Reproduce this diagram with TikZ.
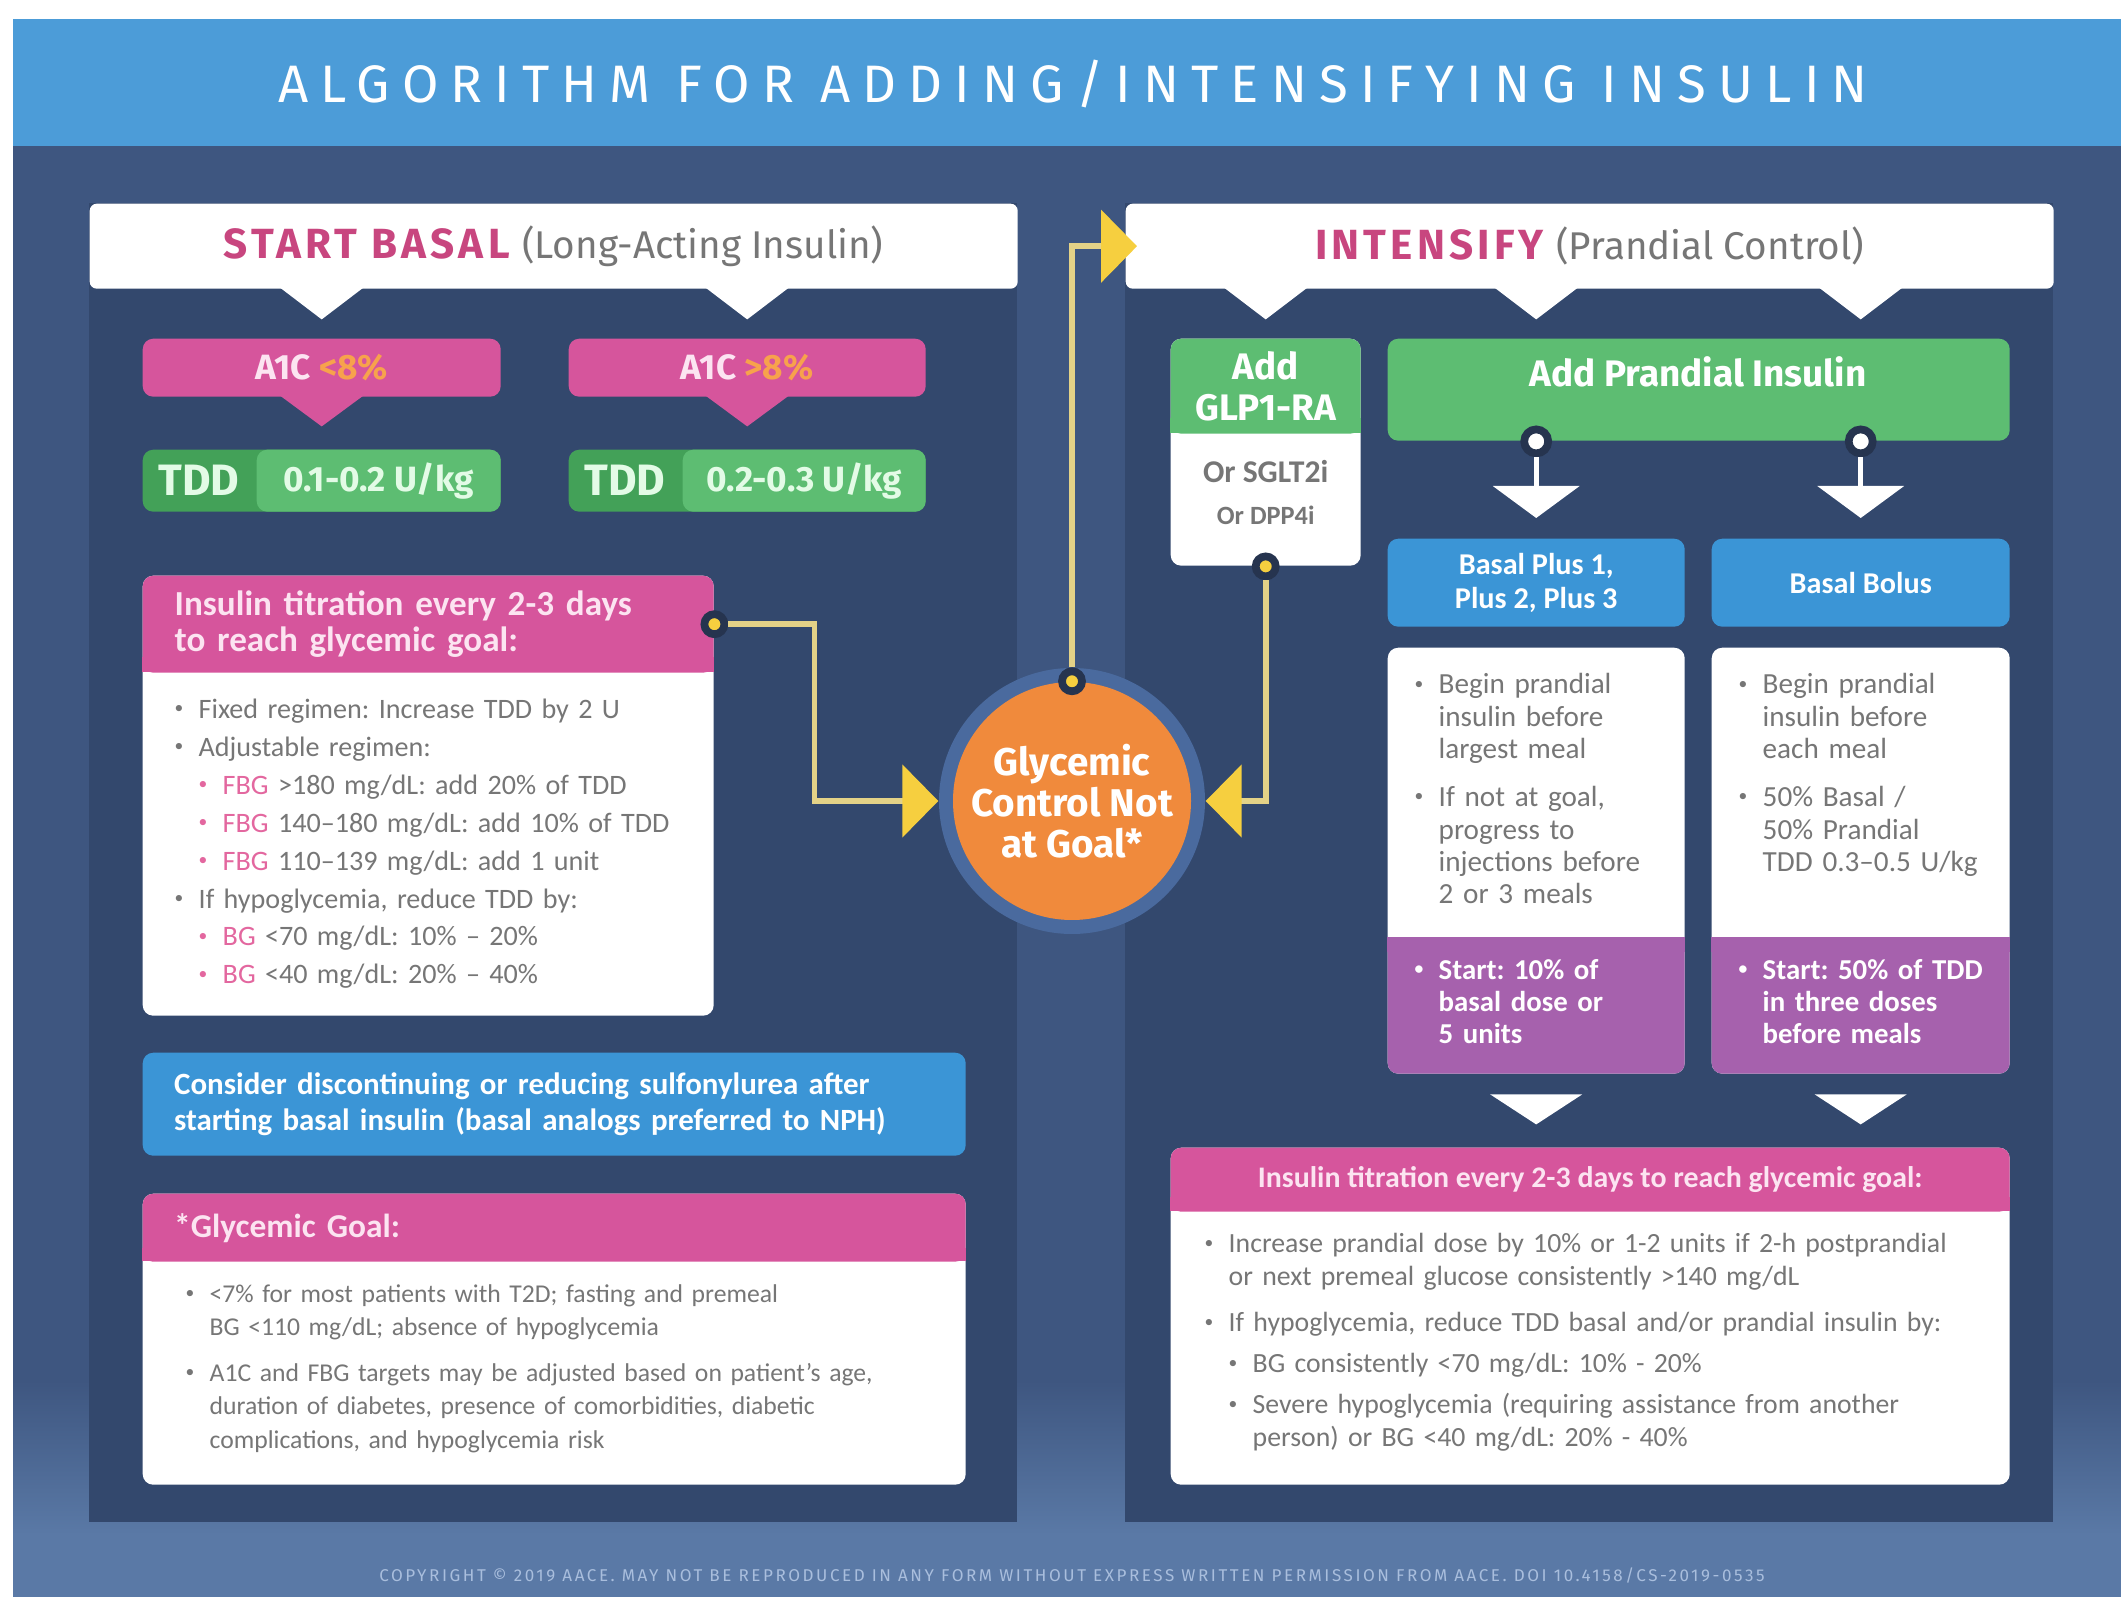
\documentclass[tikz,border=0pt]{standalone}
\usepackage{fontspec}
\setmainfont{Carlito}
\newfontfamily\fira{Fira Sans}
\usetikzlibrary{arrows.meta,calc}
\frenchspacing

\definecolor{navy}{HTML}{3E5680}
\definecolor{panel}{HTML}{33486D}
\definecolor{topblue}{HTML}{4C9CD8}
\definecolor{footblue}{HTML}{5A79A6}
\definecolor{foot}{HTML}{A9BEDD}
\definecolor{pk}{HTML}{D6559C}
\definecolor{pktxt}{HTML}{C8467F}
\definecolor{pklite}{HTML}{E3679F}
\definecolor{pinkwhite}{HTML}{FCE4F1}
\definecolor{avalue}{HTML}{F7A24C}
\definecolor{grtxt}{HTML}{767676}
\definecolor{grn}{HTML}{5DBD72}
\definecolor{grndk}{HTML}{43A158}
\definecolor{grnlt}{HTML}{E3FBE6}
\definecolor{bbox}{HTML}{3B95D6}
\definecolor{purp}{HTML}{A661AD}
\definecolor{orng}{HTML}{F08A3C}
\definecolor{halo}{HTML}{4A6A9E}
\definecolor{yel}{HTML}{F6CF3F}
\definecolor{yelline}{HTML}{E4D287}
\definecolor{outl}{HTML}{26344F}

\newcommand{\bul}{\makebox[0.24cm][l]{\raisebox{0.35ex}{\fontsize{5}{5}\selectfont\textbullet}}}
\newcommand{\pbul}{\makebox[0.24cm][l]{\raisebox{0.35ex}{\fontsize{5}{5}\selectfont\color{pklite}\textbullet}}}
\newcommand{\indt}{\hspace*{0.24cm}}

\tikzset{
  >=latex,
  rbox/.style={rounded corners=3pt, inner sep=0pt, anchor=north west},
  hdrbox/.style={rbox, rounded corners=2pt, fill=white},
  whitebox/.style={rbox, fill=white},
  pkbox/.style={rbox, fill=pk, text=pinkwhite, font=\fira\bfseries\fontsize{10}{12}\selectfont},
  pkhead/.style={rbox, fill=pk, text=pinkwhite, align=left, font=\bfseries\fontsize{10}{10.2}\selectfont},
  tddbox/.style={rbox, fill=grndk},
  tddval/.style={rbox, fill=grn, text=grnlt, font=\fira\bfseries\fontsize{10}{12}\selectfont},
  tddkey/.style={inner sep=0pt, text=grnlt, font=\fira\bfseries\fontsize{12.5}{14}\selectfont},
  greenbox/.style={rbox, fill=grn, text=white, font=\fira\bfseries\fontsize{10.5}{11.7}\selectfont},
  bluebox/.style={rbox, fill=bbox, text=white, align=center, font=\bfseries\fontsize{8.6}{9.7}\selectfont},
  purpbox/.style={rbox, fill=purp},
  listtext/.style={anchor=north west, inner sep=0pt, align=left, text=grtxt},
  purptext/.style={anchor=north west, inner sep=0pt, align=left, text=white, font=\bfseries\fontsize{8.2}{9.1}\selectfont},
  conn/.style={draw=yelline, line width=1.6pt, -{Triangle[width=0.72cm,length=0.36cm,color=yel,fill=yel]}},
  wline/.style={draw=white, line width=1.4pt, shorten >=0.2cm, -{Triangle[width=0.86cm,length=0.32cm,color=white,fill=white]}},
  knob/.style={circle, fill=yel, draw=outl, line width=2.2pt, minimum size=0.2cm, inner sep=0pt},
  wknob/.style={circle, fill=white, draw=outl, line width=2.2pt, minimum size=0.24cm, inner sep=0pt},
}

\begin{document}
\begin{tikzpicture}
    \useasboundingbox (0,0) rectangle (21.21,-15.97);
    \fill[white] (0,0) rectangle (21.21,-15.97);
    \fill[navy] (0.13,-1.46) rectangle (21.21,-15.97);
    \shade[top color=navy, bottom color=footblue] (0.13,-13.8) rectangle (21.21,-15.35);
    \fill[footblue] (0.13,-15.35) rectangle (21.21,-15.97);
    \fill[topblue] (0.13,-0.19) rectangle (21.21,-1.46);
    \node[text=white, font=\fira\fontsize{15}{18}\selectfont\addfontfeature{LetterSpace=23}] (title) at (10.73,-0.84) {ALGORITHM FOR ADDING/INTENSIFYING INSULIN};

    \fill[panel] (0.89,-2.03) rectangle (10.17,-15.22);
    \fill[panel] (11.25,-2.03) rectangle (20.53,-15.22);

    % start basal
    \node[hdrbox, minimum width=9.28cm, minimum height=0.85cm] (basal) at (0.89,-2.03) {{\fira\bfseries\fontsize{12}{14}\selectfont\addfontfeature{LetterSpace=10}\color{pktxt}START BASAL}\hspace{0.35em}{\fira\fontsize{11}{13}\selectfont\color{grtxt}(Long-Acting Insulin)}};
    \node[pkbox, minimum width=3.58cm, minimum height=0.58cm] (aoneL) at (1.42,-3.38) {A1C {\color{avalue}<8\%}};
    \node[pkbox, minimum width=3.57cm, minimum height=0.58cm] (aoneR) at (5.68,-3.38) {A1C {\color{avalue}>8\%}};
    \foreach \n in {aoneL,aoneR} {
        \fill[white] ($(\n |- basal.south)+(-0.42,0.02)$) -- ++(0.84,0) -- ($(\n |- basal.south)+(0,-0.3)$) -- cycle;
        \fill[pk] ($(\n.south)+(-0.42,0.02)$) -- ++(0.84,0) -- ($(\n.south)+(0,-0.29)$) -- cycle;
    }

    \node[tddbox, minimum width=3.58cm, minimum height=0.62cm] (tddL) at (1.42,-4.49) {};
    \node[tddval, minimum width=2.44cm, minimum height=0.62cm] (tddLv) at (2.56,-4.49) {0.1-0.2 U/kg};
    \node[tddkey] (tddLk) at ($(tddL.west)!0.5!(tddLv.west)$) {TDD};
    \node[tddbox, minimum width=3.57cm, minimum height=0.62cm] (tddR) at (5.68,-4.49) {};
    \node[tddval, minimum width=2.43cm, minimum height=0.62cm] (tddRv) at (6.82,-4.49) {0.2-0.3 U/kg};
    \node[tddkey] (tddRk) at ($(tddR.west)!0.5!(tddRv.west)$) {TDD};

    \node[whitebox, minimum width=5.71cm, minimum height=4.40cm] (titrL) at (1.42,-5.75) {};
    \fill[pk] ($(titrL.north west)+(0,-0.82)$) rectangle ($(titrL.north east)+(0,-0.97)$);
    \node[pkhead, minimum width=5.71cm, minimum height=0.97cm, text width=5.07cm] (titrLh) at (1.42,-5.75) {Insulin titration every 2-3 days\\to reach glycemic goal:};
    \node[listtext, text width=5.3cm, font=\fontsize{8}{10.8}\selectfont] (titrLl) at (1.74,-6.98) {\bul Fixed regimen: Increase TDD by 2 U\\
        \bul Adjustable regimen:\\
        \indt\pbul{\color{pklite}FBG} >180 mg/dL: add 20\% of TDD\\
        \indt\pbul{\color{pklite}FBG} 140--180 mg/dL: add 10\% of TDD\\
        \indt\pbul{\color{pklite}FBG} 110--139 mg/dL: add 1 unit\\
        \bul If hypoglycemia, reduce TDD by:\\
        \indt\pbul{\color{pklite}BG} <70 mg/dL: 10\% -- 20\%\\
        \indt\pbul{\color{pklite}BG} <40 mg/dL: 20\% -- 40\%};

    \node[rbox, fill=bbox, minimum width=8.23cm, minimum height=1.03cm, text width=7.6cm, align=left, text=white, font=\bfseries\fontsize{8.8}{10}\selectfont] (sulfo) at (1.42,-10.52) {Consider discontinuing or reducing sulfonylurea after\\starting basal insulin (basal analogs preferred to NPH)};

    \node[whitebox, minimum width=8.23cm, minimum height=2.91cm] (goal) at (1.42,-11.93) {};
    \fill[pk] ($(goal.north west)+(0,-0.55)$) rectangle ($(goal.north east)+(0,-0.68)$);
    \node[pkhead, minimum width=8.23cm, minimum height=0.68cm, text width=7.6cm, font=\bfseries\fontsize{9.5}{10}\selectfont] (goalh) at (1.42,-11.93) {*Glycemic Goal:};
    \node[listtext, text width=7.6cm, font=\fontsize{7.3}{9.5}\selectfont] (goall) at (1.85,-12.84) {\bul <7\% for most patients with T2D; fasting and premeal\\
        \indt BG <110 mg/dL; absence of hypoglycemia\\[3.5pt]
        \bul A1C and FBG targets may be adjusted based on patient's age,\\
        \indt duration of diabetes, presence of comorbidities, diabetic\\
        \indt complications, and hypoglycemia risk};

    % intensify
    \node[hdrbox, minimum width=9.28cm, minimum height=0.85cm] (intens) at (11.25,-2.03) {{\fira\bfseries\fontsize{12}{14}\selectfont\addfontfeature{LetterSpace=10}\color{pktxt}INTENSIFY}\hspace{0.35em}{\fira\fontsize{11}{13}\selectfont\color{grtxt}(Prandial Control)}};

    \node[whitebox, minimum width=1.90cm, minimum height=2.27cm] (glpB) at (11.70,-3.38) {};
    \fill[grn] ($(glpB.north west)+(0,-0.80)$) rectangle ($(glpB.north east)+(0,-0.95)$);
    \node[greenbox, minimum width=1.90cm, minimum height=0.95cm, align=center] (glpH) at (11.70,-3.38) {Add\\GLP1-RA};
    \node[inner sep=0pt, align=center, text=grtxt, font=\bfseries] (glpT) at ($($(glpH.south)!0.5!(glpB.south)$)+(0,0.08)$) {{\fontsize{9}{10}\selectfont Or SGLT2i}\\{\fontsize{7.5}{9}\selectfont Or DPP4i}};

    \node[greenbox, minimum width=6.22cm, minimum height=1.02cm] (prand) at (13.87,-3.38) {};
    \node[inner sep=0pt, text=white, font=\fira\bfseries\fontsize{10.5}{12}\selectfont] (prandT) at (16.98,-3.72) {Add Prandial Insulin};

    \node[bluebox, minimum width=2.97cm, minimum height=0.88cm] (bplus) at (13.87,-5.38) {Basal Plus 1,\\Plus 2, Plus 3};
    \node[bluebox, minimum width=2.98cm, minimum height=0.88cm] (bbolus) at (17.11,-5.38) {Basal Bolus};

    \foreach \n in {glpB,bplus,bbolus}
        \fill[white] ($(\n |- intens.south)+(-0.42,0.02)$) -- ++(0.84,0) -- ($(\n |- intens.south)+(0,-0.3)$) -- cycle;

    \node[wknob] (kP1) at (bplus |- prand.south) {};
    \node[wknob] (kP2) at (bbolus |- prand.south) {};
    \draw[wline] (kP1) -- (bplus.north);
    \draw[wline] (kP2) -- (bbolus.north);

    \node[whitebox, minimum width=2.97cm, minimum height=4.26cm] (bplusB) at (13.87,-6.47) {};
    \fill[purp] ($(bplusB.north west)+(0,-2.90)$) rectangle ($(bplusB.north east)+(0,-3.05)$);
    \node[purpbox, minimum width=2.97cm, minimum height=1.36cm] (bplusP) at (13.87,-9.37) {};
    \node[whitebox, minimum width=2.98cm, minimum height=4.26cm] (bbolusB) at (17.11,-6.47) {};
    \fill[purp] ($(bbolusB.north west)+(0,-2.90)$) rectangle ($(bbolusB.north east)+(0,-3.05)$);
    \node[purpbox, minimum width=2.98cm, minimum height=1.36cm] (bbolusP) at (17.11,-9.37) {};

    \node[listtext, text width=2.7cm, font=\fontsize{8.3}{9.2}\selectfont] (bplusL) at (14.14,-6.73) {\bul Begin prandial\\\indt insulin before\\\indt largest meal\\[4.5pt]
        \bul If not at goal,\\\indt progress to\\\indt injections before\\\indt 2 or 3 meals};
    \node[listtext, text width=2.7cm, font=\fontsize{8.3}{9.2}\selectfont] (bbolusL) at (17.38,-6.73) {\bul Begin prandial\\\indt insulin before\\\indt each meal\\[4.5pt]
        \bul 50\% Basal /\\\indt 50\% Prandial\\\indt TDD 0.3--0.5 U/kg};
    \node[purptext, text width=2.7cm] (bplusS) at (14.14,-9.59) {\bul Start: 10\% of\\\indt basal dose or\\\indt 5 units};
    \node[purptext, text width=2.7cm] (bbolusS) at (17.38,-9.59) {\bul Start: 50\% of TDD\\\indt in three doses\\\indt before meals};

    \foreach \n in {bplusP,bbolusP}
        \fill[white] ($(\n.south)+(-0.46,-0.2)$) -- ++(0.92,0) -- ($(\n.south)+(0,-0.5)$) -- cycle;

    \node[whitebox, minimum width=8.39cm, minimum height=3.37cm] (titrR) at (11.70,-11.47) {};
    \fill[pk] ($(titrR.north west)+(0,-0.50)$) rectangle ($(titrR.north east)+(0,-0.64)$);
    \node[pkhead, minimum width=8.39cm, minimum height=0.64cm, font=\bfseries\fontsize{8.5}{10}\selectfont] (titrRh) at (11.70,-11.47) {Insulin titration every 2-3 days to reach glycemic goal:};
    \node[listtext, text width=8.2cm, font=\fontsize{7.9}{9.2}\selectfont] (titrRl) at (12.04,-12.33) {\bul Increase prandial dose by 10\% or 1-2 units if 2-h postprandial\\
        \indt or next premeal glucose consistently >140 mg/dL\\[4pt]
        \bul If hypoglycemia, reduce TDD basal and/or prandial insulin by:\\[2.5pt]
        \indt\bul BG consistently <70 mg/dL: 10\% - 20\%\\[2.5pt]
        \indt\bul Severe hypoglycemia (requiring assistance from another\\
        \indt\indt person) or BG <40 mg/dL: 20\% - 40\%};

    % centre
    \node[circle, fill=halo, minimum size=2.66cm, inner sep=0pt] (glyc) at (10.72,-8.01) {};
    \node[circle, fill=orng, minimum size=2.38cm, inner sep=0pt, align=center, text=white, font=\fira\bfseries\fontsize{11}{11.7}\selectfont] (glycIn) at (glyc) {Glycemic\\Control Not\\at Goal*};

    \node[knob] (kC) at (glycIn.north) {};
    \node[knob] (kL) at (titrLh.east) {};
    \node[knob] (kG) at (glpB.south) {};
    \path (kL) ++(1.0,0) coordinate (elbL);
    \draw[conn] (kL) -- (elbL) |- (glyc.west);
    \draw[conn] (kG) |- (glyc.east);
    \draw[conn, shorten >=-0.12cm] (kC) |- (intens.west);

    \node[text=foot, font=\fira\fontsize{4.85}{5}\selectfont\addfontfeature{LetterSpace=15}] (copy) at (10.72,-15.76) {COPYRIGHT © 2019 AACE. MAY NOT BE REPRODUCED IN ANY FORM WITHOUT EXPRESS WRITTEN PERMISSION FROM AACE. DOI 10.4158/CS-2019-0535};
\end{tikzpicture}
\end{document}
